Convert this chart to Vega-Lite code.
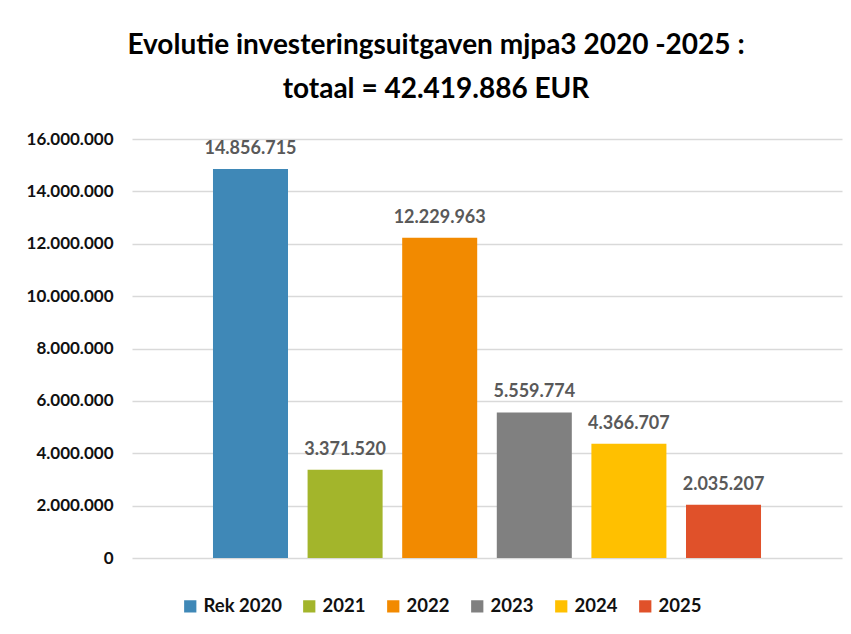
{
  "$schema": "https://vega.github.io/schema/vega-lite/v6.json",
  "width": 710,
  "height": 419,
  "autosize": {"type": "none"},
  "padding": {"left": 132, "top": 139, "right": 9, "bottom": 76},
  "background": "white",
  "config": {
    "locale": {"number": {"decimal": ",", "thousands": ".", "grouping": [3], "currency": ["€", ""]}},
    "view": {"stroke": null},
    "font": "Lato"
  },
  "title": {
    "text": ["Evolutie investeringsuitgaven mjpa3 2020 -2025 :", "totaal = 42.419.886 EUR"],
    "font": "Lato",
    "fontSize": 28,
    "fontWeight": "bold",
    "color": "#000000",
    "lineHeight": 44,
    "anchor": "middle",
    "dx": -51,
    "offset": 26
  },
  "data": {
    "values": [
      {"jaar": "Rek 2020", "bedrag": 14856715},
      {"jaar": "2021", "bedrag": 3371520},
      {"jaar": "2022", "bedrag": 12229963},
      {"jaar": "2023", "bedrag": 5559774},
      {"jaar": "2024", "bedrag": 4366707},
      {"jaar": "2025", "bedrag": 2035207}
    ]
  },
  "encoding": {
    "x": {
      "field": "jaar",
      "type": "nominal",
      "sort": null,
      "scale": {"paddingInner": 0.207, "paddingOuter": 0.856},
      "axis": null
    },
    "y": {
      "field": "bedrag",
      "type": "quantitative",
      "scale": {"domain": [0, 16000000], "nice": false},
      "axis": {
        "values": [0, 2000000, 4000000, 6000000, 8000000, 10000000, 12000000, 14000000, 16000000],
        "format": ",d",
        "title": null,
        "ticks": false,
        "domain": false,
        "labelFont": "Lato",
        "labelFontSize": 17,
        "labelFontWeight": "bold",
        "labelColor": "#111111",
        "labelPadding": 19,
        "gridColor": "#D9D9D9",
        "gridWidth": 1.5
      }
    }
  },
  "layer": [
    {
      "mark": {"type": "bar"},
      "encoding": {
        "color": {
          "field": "jaar",
          "type": "nominal",
          "sort": null,
          "scale": {
            "domain": ["Rek 2020", "2021", "2022", "2023", "2024", "2025"],
            "range": ["#3F88B7", "#A3B52B", "#F28A00", "#808080", "#FFC000", "#E0512A"]
          },
          "legend": {
            "title": null,
            "orient": "none",
            "legendX": 49,
            "legendY": 458,
            "direction": "horizontal",
            "symbolType": "square",
            "symbolSize": 150,
            "symbolStrokeWidth": 0,
            "labelFont": "Lato",
            "labelFontSize": 18.5,
            "labelFontWeight": "bold",
            "labelColor": "#111111",
            "labelOffset": 4,
            "columnPadding": 18
          }
        }
      }
    },
    {
      "mark": {"type": "text", "baseline": "bottom", "dy": -11, "font": "Lato", "fontSize": 18, "fontWeight": "bold", "color": "#595959"},
      "encoding": {
        "text": {"field": "bedrag", "type": "quantitative", "format": ",d"}
      }
    }
  ]
}
